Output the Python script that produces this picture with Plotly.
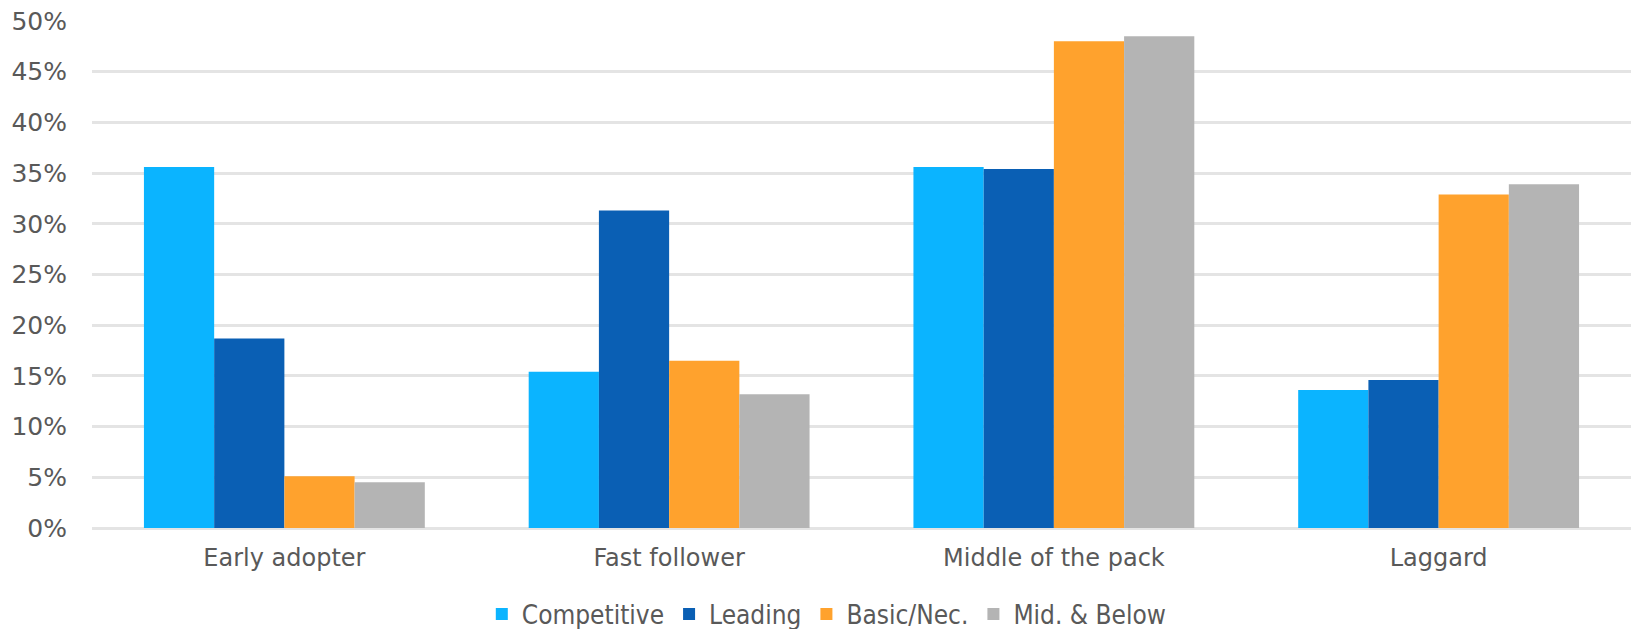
import plotly.graph_objects as go

categories = ["Early adopter", "Fast follower", "Middle of the pack", "Laggard"]
competitive = [35.6, 15.4, 35.6, 13.6]
leading = [18.7, 31.3, 35.4, 14.6]
basic_nec = [5.1, 16.5, 48.0, 32.9]
mid_below = [4.5, 13.2, 48.5, 33.9]

series = [
    ("Competitive", competitive, "#0BB4FF"),
    ("Leading", leading, "#0A5FB4"),
    ("Basic/Nec.", basic_nec, "#FFA22D"),
    ("Mid. & Below", mid_below, "#B4B4B4"),
]

fig = go.Figure()
for name, vals, color in series:
    fig.add_trace(go.Bar(
        name=name, x=categories, y=[v / 100 for v in vals],
        marker=dict(color=color, line=dict(width=0)),
    ))

fig.update_layout(
    width=1634, height=629,
    margin=dict(l=92, r=3, t=21, b=101),
    paper_bgcolor="white", plot_bgcolor="white",
    barmode="group", bargap=0.27, bargroupgap=0,
    font=dict(family="DejaVu Sans", size=24, color="#595959"),
    xaxis=dict(showgrid=False, showline=False, ticks="", ticklabelstandoff=13),
    yaxis=dict(range=[0, 0.5], dtick=0.05, tickformat=".0%",
               tickfont=dict(size=25),
               showgrid=True, gridcolor="#E4E4E4", gridwidth=3,
               zeroline=True, zerolinecolor="#E4E4E4", zerolinewidth=3,
               ticks="", ticklabelstandoff=24, showline=False),
    legend=dict(orientation="h", xref="container", yref="container",
                x=0.506, xanchor="center", y=(629 - 614) / 629, yanchor="middle",
                font=dict(family="DejaVu Sans Condensed, DejaVu Sans", size=26, color="#595959"),
                itemwidth=30, traceorder="normal"),
)

fig.write_html("out.html")
